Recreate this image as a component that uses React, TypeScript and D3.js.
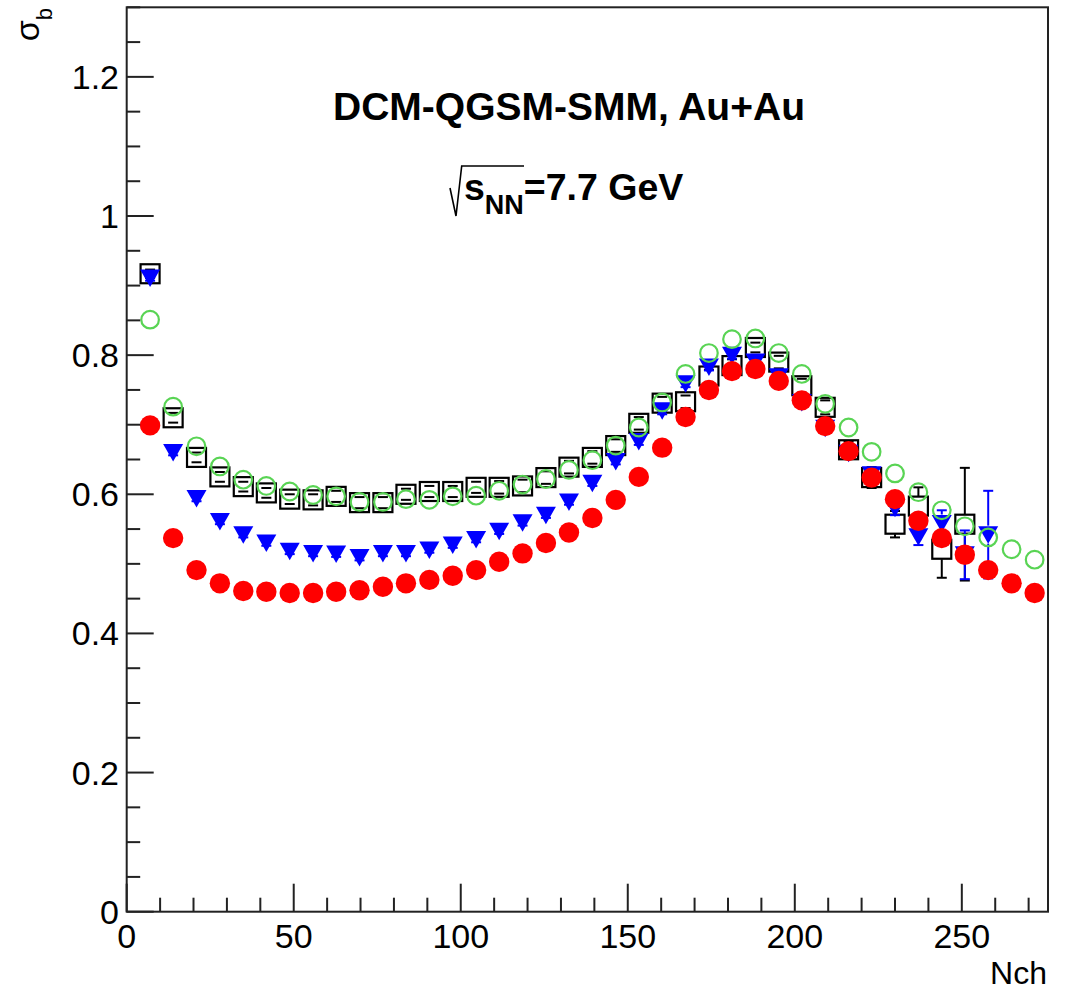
import React from "react";
import * as d3 from "d3";

// ---- data ----
const nch = [7.0, 13.9, 20.9, 27.9, 34.9, 41.8, 48.8, 55.8, 62.7, 69.7, 76.7, 83.6, 90.6, 97.6, 104.6, 111.5, 118.5, 125.5, 132.4, 139.4, 146.4, 153.3, 160.3, 167.3, 174.3, 181.2, 188.2, 195.2, 202.1, 209.1, 216.1, 223.0, 230.0, 237.0, 244.0, 250.9, 257.9, 264.9, 271.8];

const blackSquares = [0.917, 0.710, 0.653, 0.625, 0.611, 0.602, 0.593, 0.592, 0.597, 0.588, 0.588, 0.600, 0.604, 0.604, 0.610, 0.610, 0.612, 0.624, 0.639, 0.653, 0.670, 0.702, 0.731, 0.733, 0.770, 0.785, 0.811, 0.790, 0.756, 0.725, 0.664, 0.624, 0.557, 0.583, 0.521, 0.557];
const blackErr = [0.006, 0.007, 0.007, 0.007, 0.007, 0.007, 0.007, 0.008, 0.008, 0.008, 0.008, 0.008, 0.008, 0.008, 0.008, 0.009, 0.009, 0.009, 0.009, 0.009, 0.009, 0.009, 0.009, 0.009, 0.009, 0.009, 0.007, 0.009, 0.010, 0.010, 0.012, 0.015, 0.019, 0.027, 0.041, 0.081];

const blueTriangles = [0.911, 0.660, 0.594, 0.561, 0.542, 0.530, 0.518, 0.515, 0.514, 0.509, 0.515, 0.515, 0.520, 0.527, 0.535, 0.547, 0.559, 0.570, 0.589, 0.616, 0.647, 0.676, 0.720, 0.759, 0.783, 0.800, 0.790, 0.769, 0.732, 0.695, 0.659, 0.628, 0.580, 0.539, 0.558, 0.513, 0.542];
const blueErr = [0.004, 0.004, 0.004, 0.004, 0.004, 0.004, 0.004, 0.004, 0.004, 0.004, 0.004, 0.004, 0.004, 0.004, 0.004, 0.004, 0.004, 0.004, 0.004, 0.004, 0.004, 0.005, 0.005, 0.005, 0.005, 0.005, 0.005, 0.005, 0.005, 0.006, 0.006, 0.008, 0.010, 0.012, 0.019, 0.035, 0.063];

const redCircles = [0.699, 0.537, 0.491, 0.472, 0.461, 0.460, 0.458, 0.458, 0.460, 0.462, 0.467, 0.472, 0.477, 0.483, 0.491, 0.503, 0.515, 0.530, 0.545, 0.566, 0.592, 0.625, 0.667, 0.711, 0.750, 0.777, 0.780, 0.763, 0.735, 0.698, 0.662, 0.624, 0.593, 0.562, 0.537, 0.513, 0.491, 0.472, 0.458];

const greenCircles = [0.851, 0.726, 0.669, 0.640, 0.621, 0.612, 0.604, 0.599, 0.597, 0.589, 0.589, 0.593, 0.592, 0.597, 0.598, 0.605, 0.614, 0.622, 0.635, 0.649, 0.670, 0.696, 0.732, 0.773, 0.803, 0.823, 0.824, 0.803, 0.773, 0.730, 0.696, 0.661, 0.630, 0.603, 0.577, 0.554, 0.538, 0.521, 0.506];

const xMajorTicks = [0, 50, 100, 150, 200, 250];
const yMajorTicks = [0, 0.2, 0.4, 0.6, 0.8, 1, 1.2];
const xTickLabels = ["0", "50", "100", "150", "200", "250"];
const yTickLabels = ["0", "0.2", "0.4", "0.6", "0.8", "1", "1.2"];

const titleLine1 = "DCM-QGSM-SMM, Au+Au";
const xTitle = "Nch";

// ---- layout ----
const W = 1066;
const H = 991;
const L = 126.7, R = 1048, T = 7.3, B = 911.7;
const FONT = "'Liberation Sans', Arial, Helvetica, sans-serif";

export default function App() {
  const x = d3.scaleLinear().domain([0, 275.8]).range([L, R]);
  const y = d3.scaleLinear().domain([0, 1.3]).range([B, T]);

  const xMinor = d3.range(0, 276, 10).filter((v) => v % 50 !== 0);
  const yMinor = d3.range(0, 1.3001, 0.05).filter((v) => Math.abs(v / 0.2 - Math.round(v / 0.2)) > 1e-6);

  const errBars = (vals: number[], errs: number[], color: string, half: number, key: string) =>
    vals.map((v, i) => {
      const cx = x(nch[i]);
      const cy = y(v);
      const ep = y(v - errs[i]) - cy;
      const parts: JSX.Element[] = [];
      if (ep > half) {
        parts.push(<line key="u" x1={cx} x2={cx} y1={cy - half} y2={cy - ep} />);
        parts.push(<line key="d" x1={cx} x2={cx} y1={cy + half} y2={cy + ep} />);
      }
      parts.push(<line key="cu" x1={cx - 5} x2={cx + 5} y1={cy - ep} y2={cy - ep} />);
      parts.push(<line key="cd" x1={cx - 5} x2={cx + 5} y1={cy + ep} y2={cy + ep} />);
      return (
        <g key={key + i} stroke={color} strokeWidth={2}>
          {parts}
        </g>
      );
    });

  const triPath = (cx: number, cy: number) => {
    const p = d3.path();
    p.moveTo(cx - 10, cy - 8.5);
    p.lineTo(cx + 10, cy - 8.5);
    p.lineTo(cx, cy + 9);
    p.closePath();
    return p.toString();
  };

  return (
    <svg width={W} height={H} style={{ position: "absolute", left: 0, top: 0, background: "#fff" }} fontFamily={FONT}>
      <rect x={0} y={0} width={W} height={H} fill="#fff" />

      {/* black open squares */}
      {errBars(blackSquares, blackErr, "#000", 10, "be")}
      {blackSquares.map((v, i) => (
        <rect key={"bs" + i} x={x(nch[i]) - 9.5} y={y(v) - 9.5} width={19} height={19} fill="none" stroke="#000" strokeWidth={2.2} />
      ))}

      {/* blue inverted triangles */}
      {errBars(blueTriangles, blueErr, "#0000ff", 9, "ue")}
      {blueTriangles.map((v, i) => (
        <path key={"bt" + i} d={triPath(x(nch[i]), y(v))} fill="#0000ff" />
      ))}

      {/* red filled circles */}
      {redCircles.map((v, i) => (
        <circle key={"rc" + i} cx={x(nch[i])} cy={y(v)} r={10.2} fill="#ff0000" />
      ))}

      {/* green open circles */}
      {greenCircles.map((v, i) => (
        <circle key={"gc" + i} cx={x(nch[i])} cy={y(v)} r={8.8} fill="none" stroke="#59d454" strokeWidth={2.2} />
      ))}

      {/* frame */}
      <rect x={L} y={T} width={R - L} height={B - T} fill="none" stroke="#222" strokeWidth={2} />

      {/* ticks */}
      <g stroke="#222" strokeWidth={2}>
        {xMajorTicks.map((v) => (
          <line key={"xM" + v} x1={x(v)} x2={x(v)} y1={B} y2={B - 28} />
        ))}
        {xMinor.map((v) => (
          <line key={"xm" + v} x1={x(v)} x2={x(v)} y1={B} y2={B - 14} />
        ))}
        {yMajorTicks.map((v) => (
          <line key={"yM" + v} x1={L} x2={L + 27} y1={y(v)} y2={y(v)} />
        ))}
        {yMinor.map((v) => (
          <line key={"ym" + v} x1={L} x2={L + 13.5} y1={y(v)} y2={y(v)} />
        ))}
      </g>

      {/* tick labels */}
      <g fontSize={34} fill="#000">
        {xMajorTicks.map((v, i) => (
          <text key={"xl" + v} x={x(v)} y={948} textAnchor="middle">
            {xTickLabels[i]}
          </text>
        ))}
        {yMajorTicks.map((v, i) => (
          <text key={"yl" + v} x={119} y={y(v) + 12} textAnchor="end">
            {yTickLabels[i]}
          </text>
        ))}
      </g>

      {/* axis titles */}
      <text x={1047} y={984} textAnchor="end" fontSize={32} fill="#000">
        {xTitle}
      </text>
      <text transform="translate(39,8) rotate(-90)" textAnchor="end" fontSize={34} fill="#000">
        σ
        <tspan dy={13} fontSize={22}>
          b
        </tspan>
      </text>

      {/* annotations */}
      <text x={569} y={120} textAnchor="middle" fontSize={39} fontWeight="bold" fill="#000">
        {titleLine1}
      </text>
      <path d="M450,188 L456,216 L461.7,166 L524,166" fill="none" stroke="#000" strokeWidth={1.6} />
      <text x={464} y={200} fontSize={37.5} fontWeight="bold" fill="#000">
        s
        <tspan dy={14} fontSize={27}>
          NN
        </tspan>
        <tspan dy={-14} fontSize={37.5}>
          =7.7 GeV
        </tspan>
      </text>
    </svg>
  );
}
